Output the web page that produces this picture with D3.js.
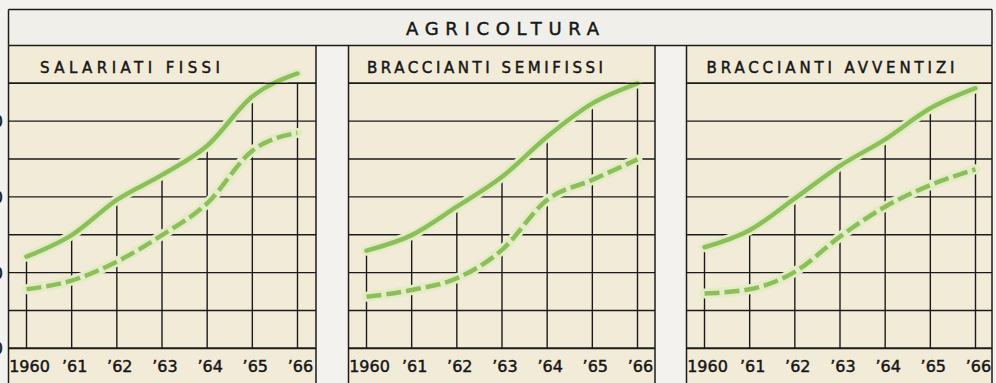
<!DOCTYPE html>
<html>
<head>
<meta charset="utf-8">
<script src="https://cdn.jsdelivr.net/npm/d3@7"></script>
<style>
  html, body { margin: 0; padding: 0; background: #f3f2ee; }
  svg { display: block; }
  text { font-family: "DejaVu Sans", sans-serif; fill: #161616; stroke: #161616; stroke-width: 0.45px; }
</style>
</head>
<body>
<svg id="chart" width="996" height="383"></svg>
<script>
// ---- data ----
const years = [1960, 1961, 1962, 1963, 1964, 1965, 1966];
const yearLabels = ["1960", "\u201961", "\u201962", "\u201963", "\u201964", "\u201965", "\u201966"];
const mainTitle = "AGRICOLTURA";
const panelTitles = ["SALARIATI FISSI", "BRACCIANTI SEMIFISSI", "BRACCIANTI AVVENTIZI"];
const yTicks = [0, 20, 40, 60];

// solid line (upper) and dashed line (lower) for each category
const fissiContinua       = [24.2, 29.9, 39.2, 45.8, 53.5, 66.5, 72.6];
const fissiTratteggiata   = [15.6, 17.9, 22.9, 29.9, 38.3, 52.2, 56.9];
const semifissiContinua   = [25.8, 29.9, 37.4, 45.3, 55.9, 64.7, 70.0];
const semifissiTratteggiata = [13.6, 15.4, 18.5, 26.0, 39.2, 44.5, 49.9];
const avventiziContinua   = [26.7, 31.2, 39.6, 48.2, 55.2, 63.4, 68.7];
const avventiziTratteggiata = [14.5, 15.6, 20.2, 29.5, 37.4, 43.1, 47.3];

const panels = [
  { title: panelTitles[0], solid: fissiContinua, dashed: fissiTratteggiata },
  { title: panelTitles[1], solid: semifissiContinua, dashed: semifissiTratteggiata },
  { title: panelTitles[2], solid: avventiziContinua, dashed: avventiziTratteggiata }
];

// ---- layout ----
const W = 996, H = 383;
const frameL = 8.5, frameR = 992, frameT = 9.5, headerB = 45.5;
const panelLeft = [8.5, 348.5, 686.5];
const panelRight = [316, 655, 992];
const titleOffset = [31.5, 18.5, 20];
const titleWidth = [180, 236, 248];
const plotTop = 83.3, plotBottom = 348.3;

const ink = "#1b1b1b";
const cream = "#f2ebd8";
const paleHeader = "#f0efea";
const green = "#8cbf5a";
const halo = "#e3ecc6";

const svg = d3.select("#chart");

// page background
svg.append("rect").attr("width", W).attr("height", H).attr("fill", "#f3f2ee");

// header band
svg.append("rect")
  .attr("x", frameL).attr("y", frameT)
  .attr("width", frameR - frameL).attr("height", headerB - frameT)
  .attr("fill", paleHeader);

const y = d3.scaleLinear().domain([0, 70]).range([plotBottom, plotTop]);

// y tick labels hugging the left edge
svg.append("g").selectAll("text").data(yTicks).join("text")
  .attr("x", 3).attr("y", d => y(d) + 6)
  .attr("text-anchor", "end")
  .attr("font-size", 16)
  .text(d => d);

panels.forEach((p, i) => {
  const L = panelLeft[i], R = panelRight[i];
  const x = d3.scaleLinear().domain([1960, 1966]).range([L + 18, L + 289]);
  const g = svg.append("g");

  // panel background
  g.append("rect").attr("x", L).attr("y", headerB)
    .attr("width", R - L).attr("height", H - headerB + 2)
    .attr("fill", cream);

  // horizontal grid lines
  const gridVals = d3.range(10, 71, 10);
  g.append("g").selectAll("line").data(gridVals).join("line")
    .attr("x1", L).attr("x2", R)
    .attr("y1", d => y(d)).attr("y2", d => y(d))
    .attr("stroke", ink).attr("stroke-width", 1.4);

  // vertical grid lines rise from the axis up to the solid line
  g.append("g").selectAll("line").data(years).join("line")
    .attr("x1", d => x(d)).attr("x2", d => x(d))
    .attr("y1", plotBottom)
    .attr("y2", (d, k) => Math.max(y(p.solid[k]), plotTop))
    .attr("stroke", ink).attr("stroke-width", 1.4);

  // base axis line
  g.append("line").attr("x1", L).attr("x2", R)
    .attr("y1", plotBottom).attr("y2", plotBottom)
    .attr("stroke", ink).attr("stroke-width", 2);

  // panel side borders
  [L, R].forEach(bx => {
    g.append("line").attr("x1", bx).attr("x2", bx)
      .attr("y1", headerB).attr("y2", H + 2)
      .attr("stroke", ink).attr("stroke-width", 1.5);
  });

  // panel title
  g.append("text")
    .attr("x", L + titleOffset[i]).attr("y", 72.7)
    .attr("font-size", 15)
    .attr("textLength", titleWidth[i])
    .attr("lengthAdjust", "spacing")
    .text(p.title);

  // year labels
  g.append("g").selectAll("text").data(years).join("text")
    .attr("x", d => x(d) + 3).attr("y", 371.5)
    .attr("text-anchor", "middle")
    .attr("font-size", 16)
    .text((d, k) => yearLabels[k]);

  // lines
  const line = d3.line()
    .x((d, k) => x(years[k]))
    .y(d => y(d))
    .curve(d3.curveMonotoneX);

  [p.dashed, p.solid].forEach(series => {
    g.append("path").attr("d", line(series))
      .attr("fill", "none").attr("stroke", halo)
      .attr("stroke-width", 10).attr("stroke-linecap", "round")
      .attr("stroke-linejoin", "round");
  });
  g.append("path").attr("d", line(p.dashed))
    .attr("fill", "none").attr("stroke", green)
    .attr("stroke-width", 4.5)
    .attr("stroke-dasharray", "15,5");
  g.append("path").attr("d", line(p.solid))
    .attr("fill", "none").attr("stroke", green)
    .attr("stroke-width", 4.5).attr("stroke-linecap", "round")
    .attr("stroke-linejoin", "round");
});

// outer frame: top line, header divider, outer sides
svg.append("line").attr("x1", frameL).attr("x2", frameR)
  .attr("y1", frameT).attr("y2", frameT)
  .attr("stroke", ink).attr("stroke-width", 1.5);
svg.append("line").attr("x1", frameL).attr("x2", frameR)
  .attr("y1", headerB).attr("y2", headerB)
  .attr("stroke", ink).attr("stroke-width", 1.5);
[frameL, frameR].forEach(bx => {
  svg.append("line").attr("x1", bx).attr("x2", bx)
    .attr("y1", frameT).attr("y2", headerB)
    .attr("stroke", ink).attr("stroke-width", 1.5);
});
// title band dividers across each panel
panels.forEach((p, i) => {
  svg.append("line").attr("x1", panelLeft[i]).attr("x2", panelRight[i])
    .attr("y1", plotTop).attr("y2", plotTop)
    .attr("stroke", ink).attr("stroke-width", 1.5);
});

// main title
svg.append("text")
  .attr("x", 406).attr("y", 35)
  .attr("font-size", 18)
  .attr("textLength", 193)
  .attr("lengthAdjust", "spacing")
  .text(mainTitle);
</script>
</body>
</html>
